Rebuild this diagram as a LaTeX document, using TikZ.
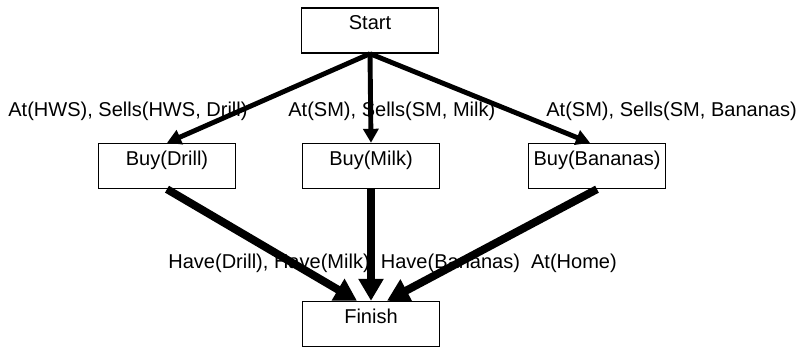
\documentclass[tikz,border=0pt]{standalone}
\usepackage{fontspec}
\setmainfont{Liberation Sans}
\usepackage{tikz}
\usetikzlibrary{arrows.meta, positioning, calc}

\begin{document}
\begin{tikzpicture}[x=0.02cm, y=-0.02cm,
        every node/.style={font=\fontsize{11.4pt}{13pt}\selectfont},
        stepbox/.style={draw, line width=0.8pt, rectangle, inner sep=0pt, minimum width=2.74cm, text height=0.44cm, text depth=0.46cm},
        cond/.style={anchor=west, inner sep=0pt},
        link/.style={line width=2.8pt, -{Triangle[length=0.28cm, width=0.3cm]}},
        biglink/.style={line width=4.5pt, -{Triangle[length=0.44cm, width=0.48cm]}}]
        \useasboundingbox (0,0) rectangle (798,348);

        \node[stepbox] (start) at (370,30.5) {Start};
        \node[stepbox] (drill) at (167,166) {Buy(Drill)};
        \node[stepbox] (milk) at (371,166) {Buy(Milk)};
        \node[stepbox] (bananas) at (597,166) {Buy(Bananas)};
        \node[stepbox] (finish) at (371,324) {Finish};

        \node[cond] (predrill) at (8,111) {At(HWS), Sells(HWS, Drill)};
        \node[cond] (premilk) at (288,111) {At(SM), Sells(SM, Milk)};
        \node[cond] (prebananas) at (546,111) {At(SM), Sells(SM, Bananas)};
        \node[cond] (goal) at (168,263) {Have(Drill), Have(Milk), Have(Bananas)\ \ At(Home)};

        \draw[link] (start.south) -- (drill.north);
        \draw[link] (start.south) -- (milk.north);
        \draw[link] (start.south) -- ([xshift=-0.14cm]bananas.north);

        \draw[biglink] (drill.south) -- ([xshift=-0.28cm]finish.north);
        \draw[biglink] (milk.south) -- (finish.north);
        \draw[biglink] (bananas.south) -- ([xshift=0.32cm]finish.north);
    \end{tikzpicture}
\end{document}
